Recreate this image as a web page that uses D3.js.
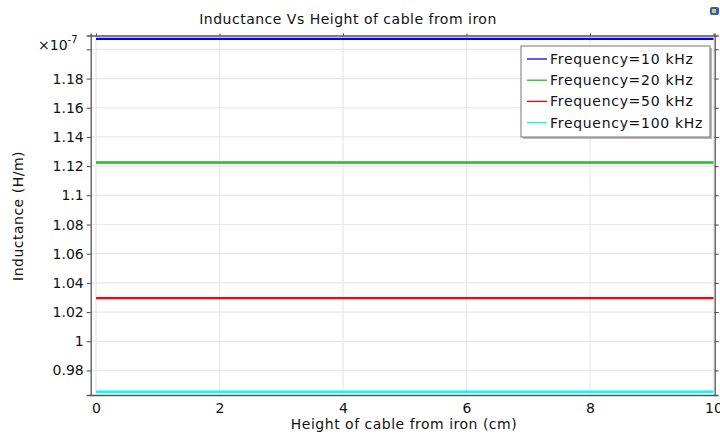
<!DOCTYPE html>
<html>
<head>
<meta charset="utf-8">
<script src="https://cdn.jsdelivr.net/npm/d3@7"></script>
<style>
  body { margin: 0; background: #fff; }
  svg { display: block; font-family: "DejaVu Sans", sans-serif; }
</style>
</head>
<body>
<svg id="chart" width="720" height="437"></svg>
<script>
// data (inductance in units of 1e-7 H/m)
const heightCm = [0, 2, 4, 6, 8, 10]
const seriesNames = ["Frequency=10 kHz", "Frequency=20 kHz", "Frequency=50 kHz", "Frequency=100 kHz"]
const ind10k = [1.2072, 1.2072, 1.2072, 1.2072, 1.2072, 1.2072]
const ind20k = [1.1225, 1.1225, 1.1225, 1.1225, 1.1225, 1.1225]
const ind50k = [1.0296, 1.0296, 1.0296, 1.0296, 1.0296, 1.0296]
const ind100k = [0.9654, 0.9654, 0.9654, 0.9654, 0.9654, 0.9654]
const xTicks = [0, 2, 4, 6, 8, 10]
const yTicks = [0.98, 1, 1.02, 1.04, 1.06, 1.08, 1.1, 1.12, 1.14, 1.16, 1.18, 1.2]

const colors = ["#0000ff", "#1fbf1f", "#ff0000", "#00ffff"]
const series = [ind10k, ind20k, ind50k, ind100k].map((vals, i) => ({
  name: seriesNames[i],
  color: colors[i],
  points: vals.map((v, j) => ({ x: heightCm[j], y: v })),
}))

const svg = d3.select("#chart")
const plotL = 90.7, plotR = 714.7, plotT = 35.5, plotB = 395

const x = d3.scaleLinear().domain([-0.086, 10.02]).range([plotL, plotR])
const y = d3.scaleLinear().domain([0.9632, 1.2095]).range([plotB, plotT])

//grid
const grid = svg.append("g")
grid.selectAll(".gx").data(xTicks).join("line")
  .attr("x1", d => x(d)).attr("x2", d => x(d))
  .attr("y1", plotT).attr("y2", plotB)
  .attr("stroke", "#e8e8e8").attr("stroke-width", 1.2)
grid.selectAll(".gy").data(yTicks).join("line")
  .attr("x1", plotL).attr("x2", plotR)
  .attr("y1", d => y(d)).attr("y2", d => y(d))
  .attr("stroke", "#e8e8e8").attr("stroke-width", 1.2)

//lines
const line = d3.line().x(d => x(d.x)).y(d => y(d.y))
svg.append("g").selectAll("path").data(series).join("path")
  .attr("d", d => line(d.points))
  .attr("fill", "none")
  .attr("stroke", d => d.color)
  .attr("stroke-width", 2.4)

//axes
const fmt = d => (+d.toFixed(2)).toString()
const yAxis = d3.axisLeft(y).tickValues(yTicks).tickSize(4).tickPadding(3)
  .tickFormat(d => d > 1.19 ? "" : fmt(d))
svg.append("g").attr("transform", `translate(${plotL},0)`).call(yAxis)
svg.append("g").attr("transform", `translate(${plotR},0)`)
  .call(d3.axisRight(y).tickValues(yTicks).tickSize(4).tickFormat(""))
svg.append("g").attr("transform", `translate(0,${plotB})`)
  .call(d3.axisBottom(x).tickValues(xTicks).tickSize(0).tickPadding(8).tickFormat(fmt))
svg.append("g").attr("transform", `translate(0,${plotT})`)
  .call(d3.axisTop(x).tickValues(xTicks).tickSize(2).tickFormat(""))

svg.selectAll(".domain").attr("stroke", "#555").attr("stroke-width", 1.3)
svg.selectAll(".tick line").attr("stroke", "#444")
svg.selectAll(".tick text").attr("font-size", 14).attr("fill", "#111")
  .attr("font-family", "DejaVu Sans")

//exponent
const ex = svg.append("text").attr("x", 38).attr("y", 50)
  .attr("font-size", 14).attr("fill", "#111")
ex.append("tspan").text("×10")
ex.append("tspan").attr("font-size", 10).attr("dy", -7).text("-7")

//title + labels
svg.append("text").attr("x", 348).attr("y", 24).attr("text-anchor", "middle")
  .attr("font-size", 14).attr("letter-spacing", 0.5).attr("fill", "#111")
  .text("Inductance Vs Height of cable from iron")
svg.append("text").attr("x", 404).attr("y", 429).attr("text-anchor", "middle")
  .attr("font-size", 14).attr("letter-spacing", 0.5).attr("fill", "#111")
  .text("Height of cable from iron (cm)")
svg.append("text").attr("transform", "translate(23,216) rotate(-90)")
  .attr("text-anchor", "middle")
  .attr("font-size", 14).attr("letter-spacing", 0.5).attr("fill", "#111")
  .text("Inductance (H/m)")

//legend
const lg = svg.append("g").attr("transform", "translate(521,46)")
lg.append("rect").attr("x", 2).attr("y", 2).attr("width", 189).attr("height", 91)
  .attr("fill", "#bbb")
lg.append("rect").attr("width", 189).attr("height", 91)
  .attr("fill", "#fff").attr("stroke", "#777").attr("stroke-width", 1)
const items = lg.selectAll(".item").data(series).join("g")
  .attr("transform", (d, i) => `translate(0,${13 + i * 21.2})`)
items.append("line").attr("x1", 6).attr("x2", 26)
  .attr("stroke", d => d.color).attr("stroke-width", 1.3)
items.append("text").attr("x", 29).attr("y", 5)
  .attr("font-size", 14).attr("letter-spacing", 0.7).attr("fill", "#111")
  .text(d => d.name)

//icon
const ic = svg.append("g").attr("transform", "translate(710,7)")
ic.append("rect").attr("width", 9).attr("height", 8).attr("rx", 2).attr("fill", "#2a5bd7")
ic.append("rect").attr("x", 2).attr("y", 2).attr("width", 4).attr("height", 4).attr("fill", "#f2c31b")
</script>
</body>
</html>
